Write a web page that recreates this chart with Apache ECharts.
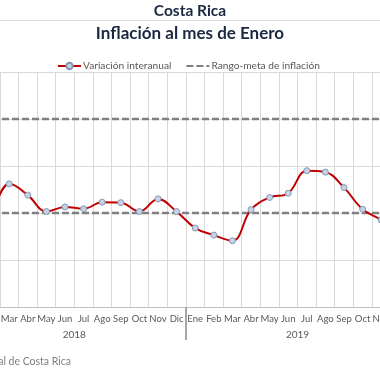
<!DOCTYPE html>
<html><head><meta charset="utf-8">
<script src="https://cdn.jsdelivr.net/npm/echarts@6/dist/echarts.min.js"></script>
<style>html,body{margin:0;padding:0;width:380px;height:380px;overflow:hidden;background:#fff;position:relative}
#c{position:absolute;left:-60px;top:0;width:500px;height:380px}</style></head>
<body><div id="c"></div>
<script>
const monthLabels = ['Ene','Feb','Mar','Abr','May','Jun','Jul','Ago','Sep','Oct','Nov','Dic',
                     'Ene','Feb','Mar','Abr','May','Jun','Jul','Ago','Sep','Oct','Nov','Dic'];
const yearLabels = ['2018','2019'];
const inflation = [2.55, 2.15, 2.62, 2.38, 2.03, 2.13, 2.09, 2.23, 2.22, 2.03, 2.30, 2.03,
                   1.68, 1.53, 1.41, 2.07, 2.33, 2.42, 2.90, 2.87, 2.54, 2.08, 1.85, 1.52];
const rangeUpper = [4,4,4,4,4,4,4,4,4,4,4,4,4,4,4,4,4,4,4,4,4,4,4,4];
const rangeLower = [2,2,2,2,2,2,2,2,2,2,2,2,2,2,2,2,2,2,2,2,2,2,2,2];
const yTicks = {min:0, max:5, interval:1};

const chart = echarts.init(document.getElementById('c'), null, {renderer:'canvas'});
const font = 'Lato';
chart.setOption({
  animation:false,
  grid:{left:22.7, top:72, width:446.4, height:235},
  legend:{left:112, top:56, itemWidth:23, itemHeight:8, itemGap:14,
    textStyle:{color:'#595959', fontSize:10.2, fontFamily:font, padding:[0,0,0,-3]},
    data:[{name:'Variación interanual'},
          {name:'Rango-meta de inflación', itemStyle:{opacity:0}}]},
  xAxis:[
    {type:'category', data:monthLabels, boundaryGap:true,
     axisLine:{lineStyle:{color:'#bfbfbf', width:1}}, axisTick:{show:false},
     axisLabel:{interval:0, color:'#595959', fontSize:9.5, fontFamily:font, margin:7},
     splitLine:{show:true, interval:0, lineStyle:{color:'#d9d9d9', width:1}}},
    {type:'category', data:yearLabels, position:'bottom', boundaryGap:true,
     axisLine:{show:false},
     axisTick:{show:true, interval:0, length:33, lineStyle:{color:'#a6a6a6', width:2}},
     axisLabel:{interval:0, color:'#595959', fontSize:10, fontFamily:font, margin:23},
     splitLine:{show:false}}
  ],
  yAxis:{type:'value', min:yTicks.min, max:yTicks.max, interval:yTicks.interval,
    axisLabel:{show:false}, axisLine:{show:false}, axisTick:{show:false},
    splitLine:{lineStyle:{color:'#d9d9d9', width:1}}},
  series:[
    {name:'Rango-meta de inflación', type:'line', data:rangeUpper, symbol:'none',
     lineStyle:{color:'#808080', width:2.5, type:[7,3]}, itemStyle:{color:'#808080'}, z:2},
    {name:'Rango-meta de inflación', type:'line', data:rangeLower, symbol:'none',
     lineStyle:{color:'#808080', width:2.5, type:[7,3]}, itemStyle:{color:'#808080'}, z:2},
    {name:'Variación interanual', type:'line', data:inflation, smooth:0.4,
     symbol:'circle', symbolSize:6,
     lineStyle:{color:'#c00000', width:2},
     itemStyle:{color:'#c5d3e8', borderColor:'#8497b0', borderWidth:1}, z:3}
  ],
  graphic:[
    {type:'text', x:250, y:11, style:{text:'Costa Rica', textAlign:'center', textVerticalAlign:'middle',
      font:'bold 15.5px Lato', fill:'#1b2841'}},
    {type:'line', shape:{x1:0, y1:20.5, x2:500, y2:20.5}, style:{stroke:'#d9d9d9', lineWidth:1}},
    {type:'text', x:250, y:34, style:{text:'Inflación al mes de Enero', textAlign:'center', textVerticalAlign:'middle',
      font:'bold 17px Lato', fill:'#1b2841'}},
    {type:'text', x:131, y:362, style:{text:'Fuente: Banco Central de Costa Rica', textAlign:'right', textVerticalAlign:'middle',
      font:'10.5px Lato', fill:'#7f7f7f'}}
  ]
});
</script></body></html>
